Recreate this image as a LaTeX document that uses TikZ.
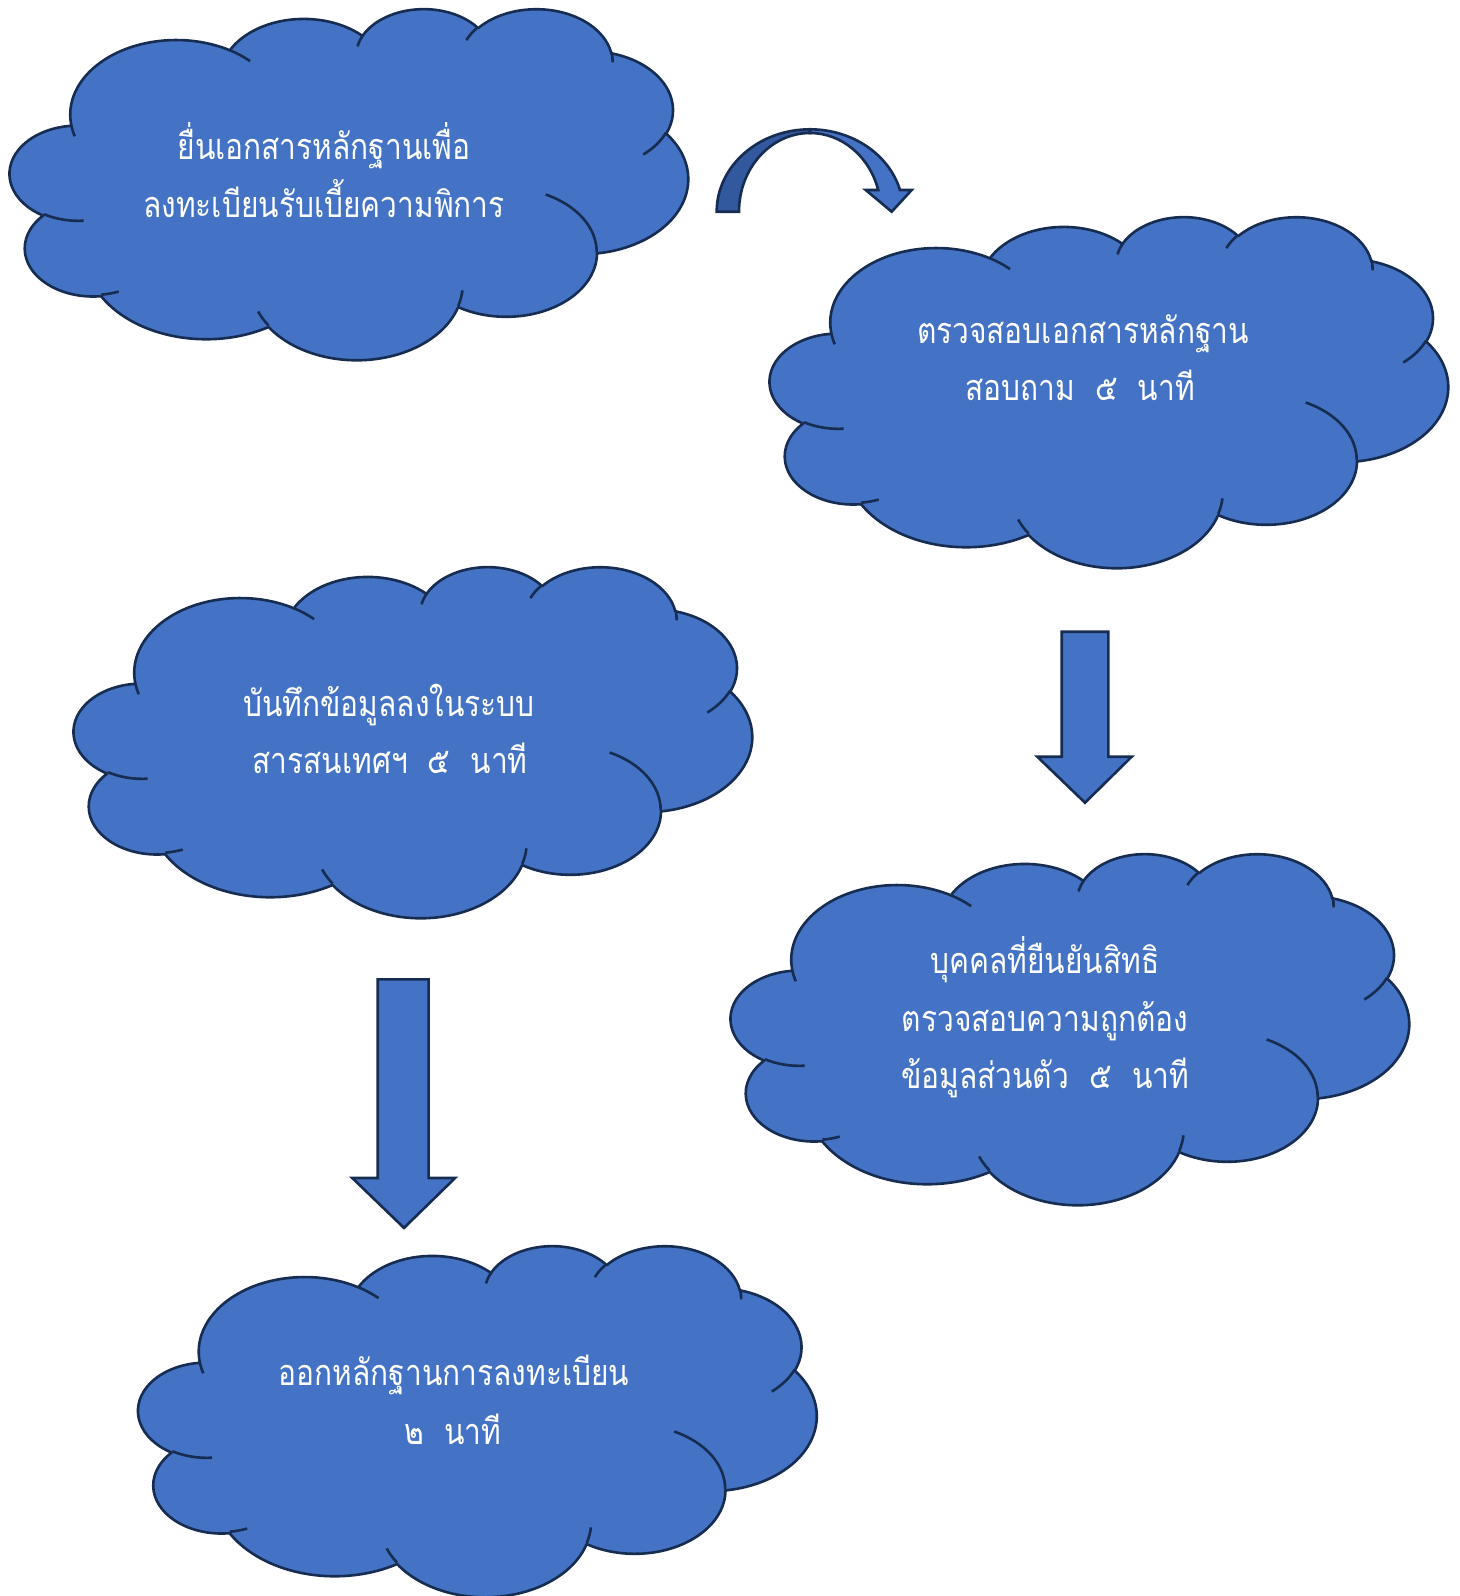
\documentclass[tikz,border=0pt]{standalone}
\usepackage{fontspec}
\newfontfamily\thai[Script=Thai,FakeStretch=0.83]{Loma}
\definecolor{cfill}{HTML}{4472C4}
\definecolor{cline}{RGB}{23,44,81}
\definecolor{adark}{RGB}{50,88,158}
\newcommand\ca[4]{arc[start angle={vp(#1,#2,#3)},end angle={vp(#1,#2,#3+#4)},x radius=#1,y radius=#2]}
\def\cloudpath{(3.900,14.370) \ca{6.753}{9.190}{-190.48748}{123.78053}
 \ca{5.333}{7.267}{-144.10238}{89.94523}
 \ca{4.365}{5.945}{-145.80792}{99.72302}
 \ca{4.857}{6.595}{-130.98607}{117.24173}
 \ca{5.333}{7.273}{-78.70888}{109.02692}
 \ca{6.775}{9.220}{-46.26725}{130.269}
 \ca{5.785}{7.867}{0.62502}{114.03333}
 \ca{6.752}{9.215}{22.4516}{115.17255}
 \ca{7.720}{10.543}{66.24263}{75.71102}
 \ca{4.360}{5.918}{-274.94208}{146.73557}
 \ca{4.345}{5.945}{-246.8285}{152.51885} -- cycle}
\def\cloudinner{(4.693,26.177) \ca{4.345}{5.945}{86.742}{26.4295}
 (6.928,34.899) \ca{4.360}{5.918}{73.61047}{11.44747}
 (16.478,39.090) \ca{6.752}{9.215}{137.62415}{14.0811}
 (28.827,34.751) \ca{6.752}{9.215}{6.45327}{15.99835}
 (34.129,22.954) \ca{5.785}{7.867}{-70.29235}{70.91737}
 (41.798,15.354) \ca{5.333}{7.273}{30.31803}{27.7515}
 (38.324,5.426) \ca{4.857}{6.595}{-13.74433}{14.8589}
 (29.078,3.952) \ca{4.857}{6.595}{-149.18145}{18.19537}
 (22.141,4.720) \ca{4.365}{5.945}{-163.49427}{17.68635}
 (14.000,5.192) \ca{6.753}{9.190}{-66.70695}{12.31935}
 (4.127,15.789) \ca{6.753}{9.190}{157.65435}{11.85817}}
\newcommand\officecloud[2]{%
 \begin{scope}[shift={(#1,#2)},x=7.8472pt,y=-4.0625pt]
  \filldraw[cloudline,fill=cfill] \cloudpath;
  \draw[cloudline] \cloudinner;
 \end{scope}}
\tikzset{
 cloudline/.style={draw=cline,line width=1.3pt,line join=round},
 txt/.style={text=white,font=\thai\fontsize{18}{21}\selectfont,inner sep=0pt,anchor=base},
 blockarrow/.style={draw=cline,line width=1.3pt,fill=cfill,line join=miter}
}
\begin{document}
\begin{tikzpicture}[x=0.5pt,y=-0.5pt,
 declare function={vp(\qa,\qb,\qt)=\qt+atan((\qa-\qb)*sin(\qt)*cos(\qt)/(\qb*(cos(\qt))^2+\qa*(sin(\qt))^2));}]
\useasboundingbox (0,0) rectangle (1460,1596);
% clouds
\officecloud{10}{8}
\officecloud{770}{216}
\officecloud{74}{566}
\officecloud{731}{853}
\officecloud{138.5}{1245}
% texts
\node[txt] (t1a) at (324,159) {ยื่นเอกสารหลักฐานเพื่อ};
\node[txt] (t1b) at (324,217) {ลงทะเบียนรับเบี้ยความพิการ};
\node[txt] (t2a) at (1083,343) {ตรวจสอบเอกสารหลักฐาน};
\node[txt] (t2b) at (1080,400) {สอบถาม\ \ ๕\ \ นาที};
\node[txt] (t3a) at (389,716) {บันทึกข้อมูลลงในระบบ};
\node[txt] (t3b) at (390,773) {สารสนเทศฯ\ \ ๕\ \ นาที};
\node[txt] (t4a) at (1045,973) {บุคคลที่ยืนยันสิทธิ};
\node[txt] (t4b) at (1045,1031) {ตรวจสอบความถูกต้อง};
\node[txt] (t4c) at (1045,1088) {ข้อมูลส่วนตัว\ \ ๕\ \ นาที};
\node[txt] (t5a) at (454,1385) {ออกหลักฐานการลงทะเบียน};
\node[txt] (t5b) at (453,1444) {๒\ \ นาที};
% straight block arrows
\draw[blockarrow] (1061.7,631.7) -- (1108.3,631.7) -- (1108.3,756.7) -- (1131.7,756.7)
  -- (1085,802.7) -- (1037.3,756.7) -- (1061.7,756.7) -- cycle;
\draw[blockarrow] (377.7,979.4) -- (428.6,979.4) -- (428.6,1178) -- (455.1,1178)
  -- (404,1227.9) -- (352.3,1178) -- (377.7,1178) -- cycle;
% curved arrow
\draw[blockarrow,fill=adark] (716.7,211.7) arc[start angle=180,end angle=270,x radius=93.3,y radius=82.4]
  -- (810,133) arc[start angle=270,end angle=180,x radius=71,y radius=78.7] -- cycle;
\draw[blockarrow] (810,129.3) arc[start angle=270,end angle=344.7,x radius=93.3,y radius=82.4]
  -- (911.7,190) -- (891.7,211.7) -- (865.7,190) -- (878.2,190)
  arc[start angle=344,end angle=270,x radius=71,y radius=78.7] -- cycle;
\end{tikzpicture}
\end{document}
